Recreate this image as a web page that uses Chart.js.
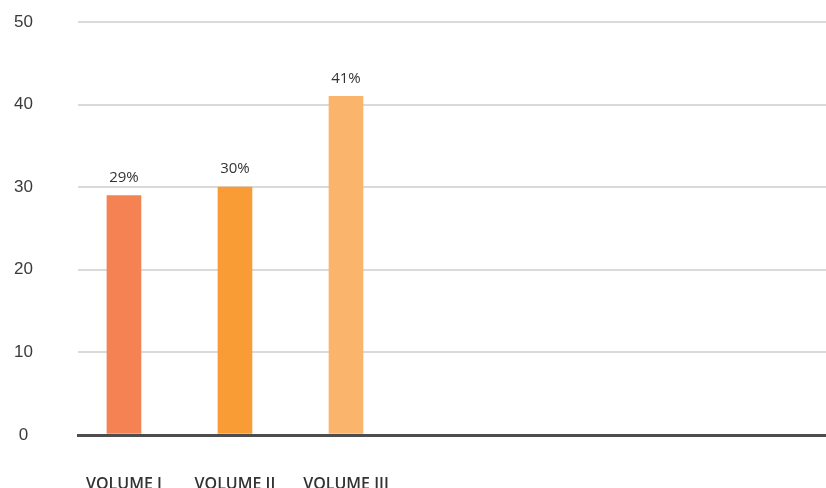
<!DOCTYPE html>
<html>
<head>
<meta charset="utf-8">
<script src="https://cdn.jsdelivr.net/npm/chart.js@4.4.1/dist/chart.umd.min.js"></script>
<style>
  html, body { margin: 0; padding: 0; background: #fff; }
  #wrap { width: 826px; height: 488px; }
</style>
</head>
<body>
<div id="wrap"><canvas id="volChart"></canvas></div>
<script>
const categories = ['VOLUME I', 'VOLUME II', 'VOLUME III'];
const shares = [29, 30, 41];
const barColors = ['#f48253', '#f99c36', '#fbb46c'];
const yTicks = [0, 10, 20, 30, 40, 50];

// percentage labels above each bar
const valueLabels = {
  id: 'valueLabels',
  afterDatasetsDraw(chart) {
    const ctx = chart.ctx;
    const meta = chart.getDatasetMeta(0);
    ctx.save();
    ctx.font = '15px "Open Sans"';
    ctx.fillStyle = '#333';
    ctx.textAlign = 'center';
    ctx.textBaseline = 'middle';
    meta.data.forEach((bar, i) => {
      ctx.fillText(shares[i] + '%', bar.x, bar.y - 18);
    });
    ctx.restore();
  }
};

new Chart(document.getElementById('volChart'), {
  type: 'bar',
  data: {
    datasets: [{
      data: shares.map((v, i) => ({ x: i, y: v })),
      backgroundColor: barColors,
      barThickness: 34
    }]
  },
  options: {
    responsive: true,
    maintainAspectRatio: false,
    animation: false,
    layout: { padding: { top: 22, right: 0, bottom: 0, left: 0 } },
    plugins: { legend: { display: false }, tooltip: { enabled: false } },
    scales: {
      x: {
        type: 'linear',
        bounds: 'data',
        offset: false,
        z: 1, // baseline on top of the bar bottoms
        min: -0.414,
        max: 6.324,
        afterBuildTicks: axis => { axis.ticks = categories.map((c, i) => ({ value: i })); },
        afterFit: axis => { axis.height = 53; },
        grid: { display: false, drawTicks: false },
        border: { display: true, color: '#4d4d4d', width: 3 },
        ticks: {
          padding: 40,
          maxRotation: 0,
          autoSkip: false,
          color: '#333',
          font: { family: 'Open Sans', size: 16, weight: '600' },
          callback: v => categories[v] ?? ''
        }
      },
      y: {
        min: 0,
        max: 50,
        afterBuildTicks: axis => { axis.ticks = yTicks.map(v => ({ value: v })); },
        afterFit: axis => {
          axis.width = 78;
          axis.paddingTop = 0;
          axis.paddingBottom = 0;
        },
        grid: {
          drawTicks: false,
          color: c => c.tick.value === 0 ? '#4d4d4d' : '#dadada',
          lineWidth: c => c.tick.value === 0 ? 3 : 2
        },
        border: { display: false },
        ticks: {
          padding: 45,
          crossAlign: 'center',
          color: '#3a3a3a',
          font: { family: 'Liberation Sans', size: 17 }
        }
      }
    }
  },
  plugins: [valueLabels]
});
</script>
</body>
</html>
